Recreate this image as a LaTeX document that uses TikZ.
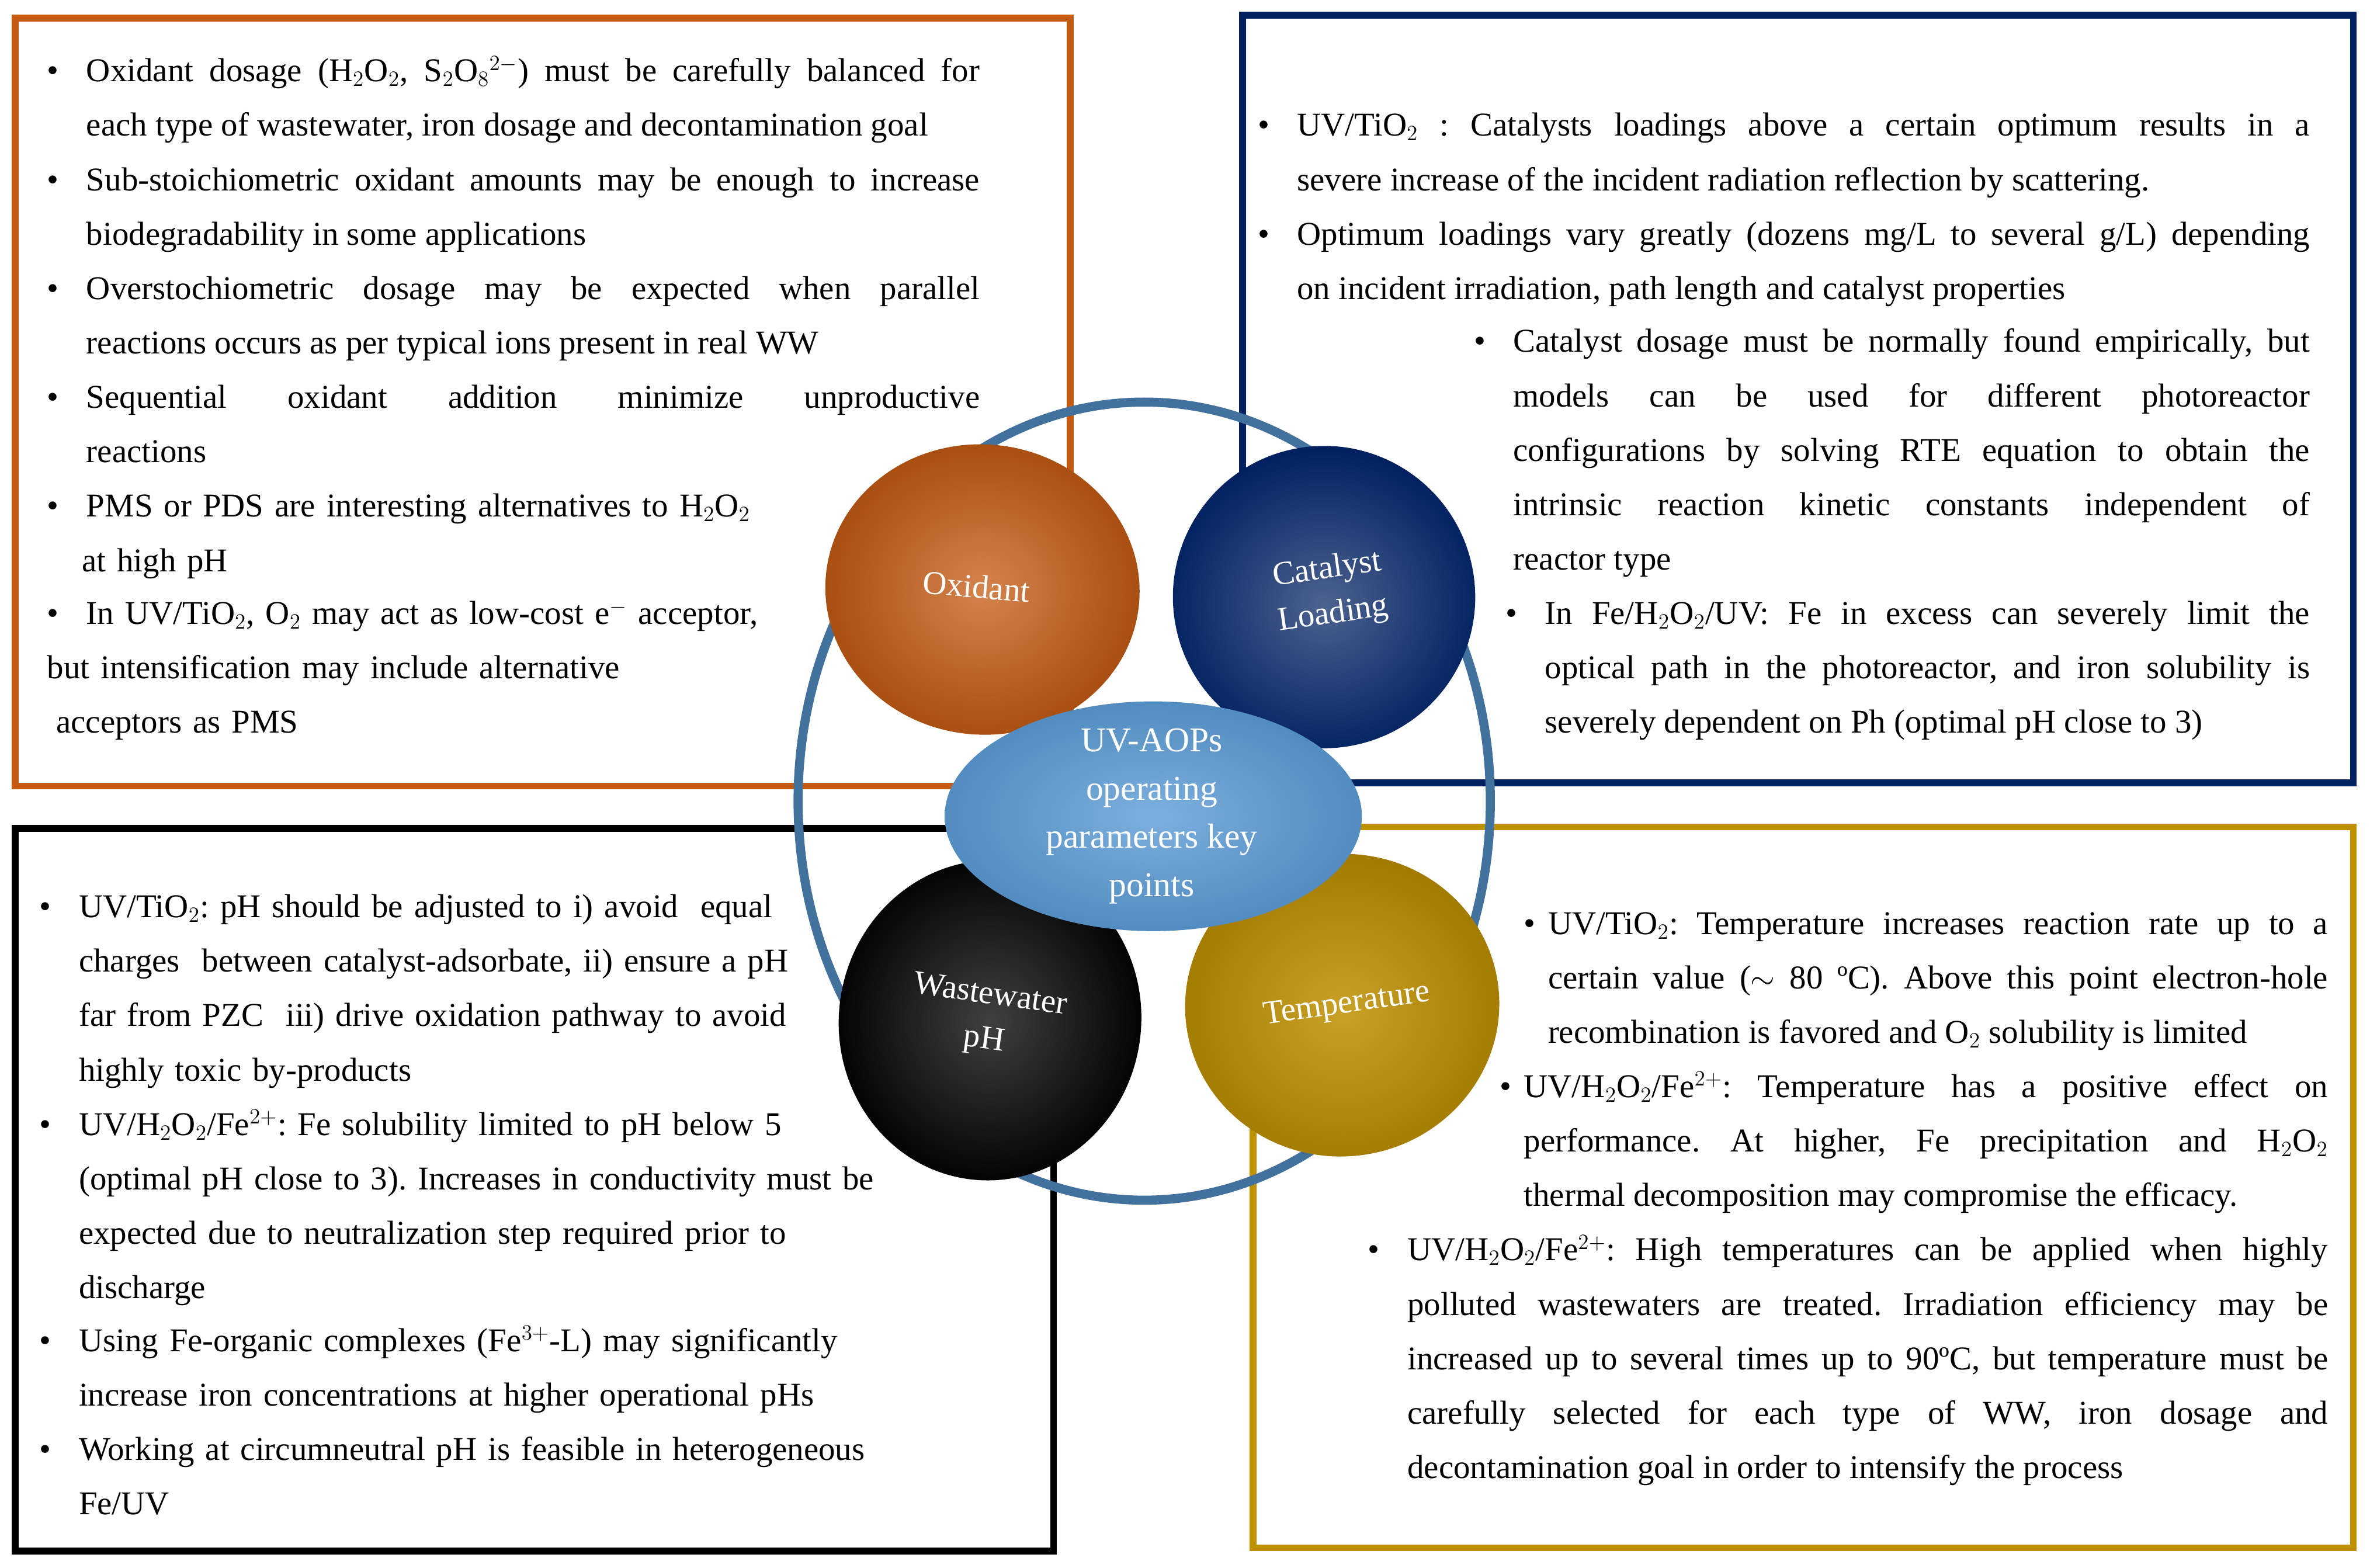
\documentclass[tikz,border=0pt]{standalone}
\usepackage{fontspec}
\setmainfont{Liberation Serif}
\frenchspacing
\definecolor{cor}{HTML}{C55A11}
\definecolor{cnv}{HTML}{002060}
\definecolor{cgd}{HTML}{BF9000}
\definecolor{cring}{HTML}{41719C}
\definecolor{cbl}{HTML}{5B9BD5}
\begin{document}
\begin{tikzpicture}[x=1pt,y=-1pt,
  box/.style={draw,line width=4.5pt},
  txt/.style={inner sep=0pt,anchor=base west,font=\fontsize{22}{36}\selectfont,align=justify},
  rtxt/.style={inner sep=0pt,anchor=base west,text width=640pt,font=\fontsize{22}{36}\selectfont,align=left},
  bul/.style={inner sep=0pt,anchor=base,font=\fontsize{22}{36}\selectfont},
  lbl/.style={text=white,font=\fontsize{22}{30}\selectfont,align=center}]
\useasboundingbox (0,0) rectangle (1568,1037);
\fill[white] (0,0) rectangle (1568,1037);
% boxes
\draw[box,cor] (10,12) rectangle (708,520);
\draw[box,cnv] (822,10) rectangle (1557,518);
\draw[box,black] (10,548) rectangle (697,1026);
\draw[box,cgd] (829,547) rectangle (1557,1024);
% ring
\draw[cring,line width=6pt] (757,530) ellipse [x radius=229,y radius=264];
% blobs
\shade[inner color=cor!75!white,outer color=cor!85!black,rotate around={-5:(650,390)}] (650,390) ellipse [x radius=104,y radius=96];
\shade[inner color=cnv!70!white,outer color=cnv,rotate around={10:(876,395)}] (876,395) ellipse [x radius=100,y radius=100];
\shade[inner color=black!75,outer color=black,rotate around={-8:(655,675)}] (655,675) ellipse [x radius=100,y radius=106];
\shade[inner color=cgd!85!white,outer color=cgd!85!black,rotate around={8:(888,665)}] (888,665) ellipse [x radius=104,y radius=100];
\shade[inner color=cbl!80!white,outer color=cbl!90!black] (763,540) ellipse [x radius=138,y radius=76];
\node[lbl,rotate=-5] (ox) at (646,388) {Oxidant};
\node[lbl,rotate=8] (cat) at (880,392) {Catalyst\\Loading};
\node[lbl,rotate=-8] (ww) at (653,674) {Wastewater\\pH};
\node[lbl,rotate=8] (tmp) at (891,665) {Temperature};
\node[lbl,font=\fontsize{23}{32}\selectfont] (ctr) at (762,540) {UV-AOPs\\operating\\parameters key\\points};
% top-left
\node[txt,text width=591] (a1) at (57,54) {Oxidant dosage (H$_2$O$_2$, S$_2$O$_8$$^{2-}$) must be carefully balanced for\linebreak each type of wastewater, iron dosage and decontamination goal};
\node[txt,text width=591] (a2) at (57,126) {Sub-stoichiometric oxidant amounts may be enough to increase\linebreak biodegradability in some applications};
\node[txt,text width=591] (a3) at (57,198) {Overstochiometric dosage may be expected when parallel\linebreak reactions occurs as per typical ions present in real WW};
\node[txt,text width=591] (a4) at (57,270) {Sequential oxidant addition minimize unproductive\linebreak reactions};
\node[rtxt] (a5) at (57,342) {PMS or PDS are interesting alternatives to H$_2$O$_2$\\\hspace*{-3pt}at high pH};
\node[rtxt] (a6) at (57,413) {In UV/TiO$_2$, O$_2$ may act as low-cost e$^-$ acceptor,};
\node[rtxt] (a7) at (31,449) {but intensification may include alternative};
\node[rtxt] (a8) at (37,485) {acceptors as PMS};
\foreach \n in {a1,a2,a3,a4,a5,a6} \node[bul] at ([xshift=-22pt]\n.base west) {\textbullet};
% top-right
\node[txt,text width=670] (b1) at (858,90) {UV/TiO$_2$ : Catalysts loadings above a certain optimum results in a\linebreak severe increase of the incident radiation reflection by scattering.};
\node[txt,text width=670] (b2) at (858,162) {Optimum loadings vary greatly (dozens mg/L to several g/L) depending\linebreak on incident irradiation, path length and catalyst properties};
\node[txt,text width=527] (b3) at (1001,233) {Catalyst dosage must be normally found empirically, but\linebreak models can be used for different photoreactor\linebreak configurations by solving RTE equation to obtain the\linebreak intrinsic reaction kinetic constants independent of\linebreak reactor type};
\node[txt,text width=506] (b4) at (1022,413) {In Fe/H$_2$O$_2$/UV: Fe in excess can severely limit the\linebreak optical path in the photoreactor, and iron solubility is\linebreak severely dependent on Ph (optimal pH close to 3)};
\foreach \n in {b1,b2,b3,b4} \node[bul] at ([xshift=-22pt]\n.base west) {\textbullet};
% bottom-left
\node[rtxt] (c1) at (52,607) {UV/TiO$_2$: pH should be adjusted to i) avoid\ \ equal\\charges\ \ between catalyst-adsorbate, ii) ensure a pH\\far from PZC\ \ iii) drive oxidation pathway to avoid\\highly toxic by-products};
\node[rtxt] (c2) at (52,751) {UV/H$_2$O$_2$/Fe$^{2+}$: Fe solubility limited to pH below 5\\(optimal pH close to 3). Increases in conductivity must be\\expected due to neutralization step required prior to\\discharge};
\node[rtxt] (c3) at (52,894) {Using Fe-organic complexes (Fe$^{3+}$-L) may significantly\\increase iron concentrations at higher operational pHs};
\node[rtxt] (c4) at (52,966) {Working at circumneutral pH is feasible in heterogeneous\\Fe/UV};
\foreach \n in {c1,c2,c3,c4} \node[bul] at ([xshift=-22pt]\n.base west) {\textbullet};
% bottom-right
\node[txt,text width=516] (d1) at (1024,618) {UV/TiO$_2$: Temperature increases reaction rate up to a\linebreak certain value ($\sim$ 80 ºC). Above this point electron-hole\linebreak recombination is favored and O$_2$ solubility is limited};
\node[txt,text width=532] (d2) at (1008,726) {UV/H$_2$O$_2$/Fe$^{2+}$: Temperature has a positive effect on\linebreak performance. At higher, Fe precipitation and H$_2$O$_2$\linebreak thermal decomposition may compromise the efficacy.};
\node[txt,text width=609] (d3) at (931,834) {UV/H$_2$O$_2$/Fe$^{2+}$: High temperatures can be applied when highly\linebreak polluted wastewaters are treated. Irradiation efficiency may be\linebreak increased up to several times up to 90ºC, but temperature must be\linebreak carefully selected for each type of WW, iron dosage and\linebreak decontamination goal in order to intensify the process};
\node[bul] at ([xshift=-12pt]d1.base west) {\textbullet};
\node[bul] at ([xshift=-12pt]d2.base west) {\textbullet};
\node[bul] at ([xshift=-22pt]d3.base west) {\textbullet};
\end{tikzpicture}
\end{document}
